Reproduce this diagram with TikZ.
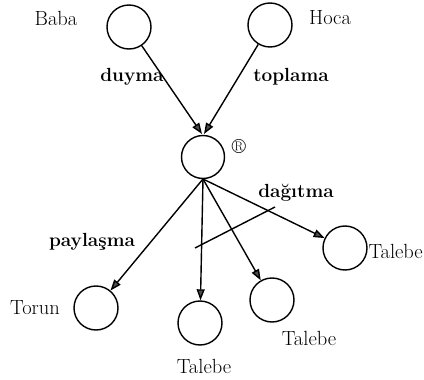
\documentclass[tikz,border=0pt]{standalone}
\usetikzlibrary{arrows.meta}
\begin{document}
\begin{tikzpicture}[x=1pt,y=-1pt,
  person/.style={circle,draw,line width=1.4pt,minimum size=44pt,inner sep=0pt},
  lbl/.style={font=\fontsize{20.5}{24}\selectfont,inner sep=0pt},
  elbl/.style={font=\fontsize{19}{23}\selectfont\bfseries,inner sep=0pt},
  conn/.style={line width=1.4pt,-{Triangle[length=11pt,width=8pt,fill=gray!60!black]}}]
\useasboundingbox (0,0) rectangle (424,380);
\node[person] (baba) at (129,27) {};
\node[person] (hoca) at (270,25) {};
\node[person,minimum size=43pt] (mid) at (203,157) {};
\node[person] (torun) at (96,308) {};
\node[person] (t1) at (200,323) {};
\node[person] (t2) at (272,300) {};
\node[person] (t3) at (345,248) {};
\node[lbl] (lbaba) at (56,18) {Baba};
\node[lbl] (lhoca) at (330,18) {Hoca};
\node[lbl] (lr) at (239,146) {\textregistered};
\node[lbl] (ltorun) at (35,308) {Torun};
\node[lbl] (lt1) at (204,366) {Talebe};
\node[lbl] (lt2) at (309,338) {Talebe};
\node[lbl,anchor=east] (lt3) at (423,251) {Talebe};
\node[elbl] (lduyma) at (132,77) {duyma};
\node[elbl] (ltop) at (291,77) {toplama};
\node[elbl] (ldag) at (296,193) {dağıtma};
\node[elbl] (lpay) at (92,242) {paylaşma};
\coordinate (top) at (203,134);
\coordinate (bot) at (203,179);
\coordinate (c1) at (195,248);
\coordinate (c2) at (275,207);
\draw[conn] (baba) -- ([xshift=-1pt]top);
\draw[conn] (hoca) -- ([xshift=1pt]top);
\draw[conn] (bot) -- (torun);
\draw[conn] (bot) -- (t1);
\draw[conn] (bot) -- (t2);
\draw[conn] (bot) -- (t3);
\draw[line width=1.4pt] (c1) -- (c2);
\end{tikzpicture}
\end{document}
